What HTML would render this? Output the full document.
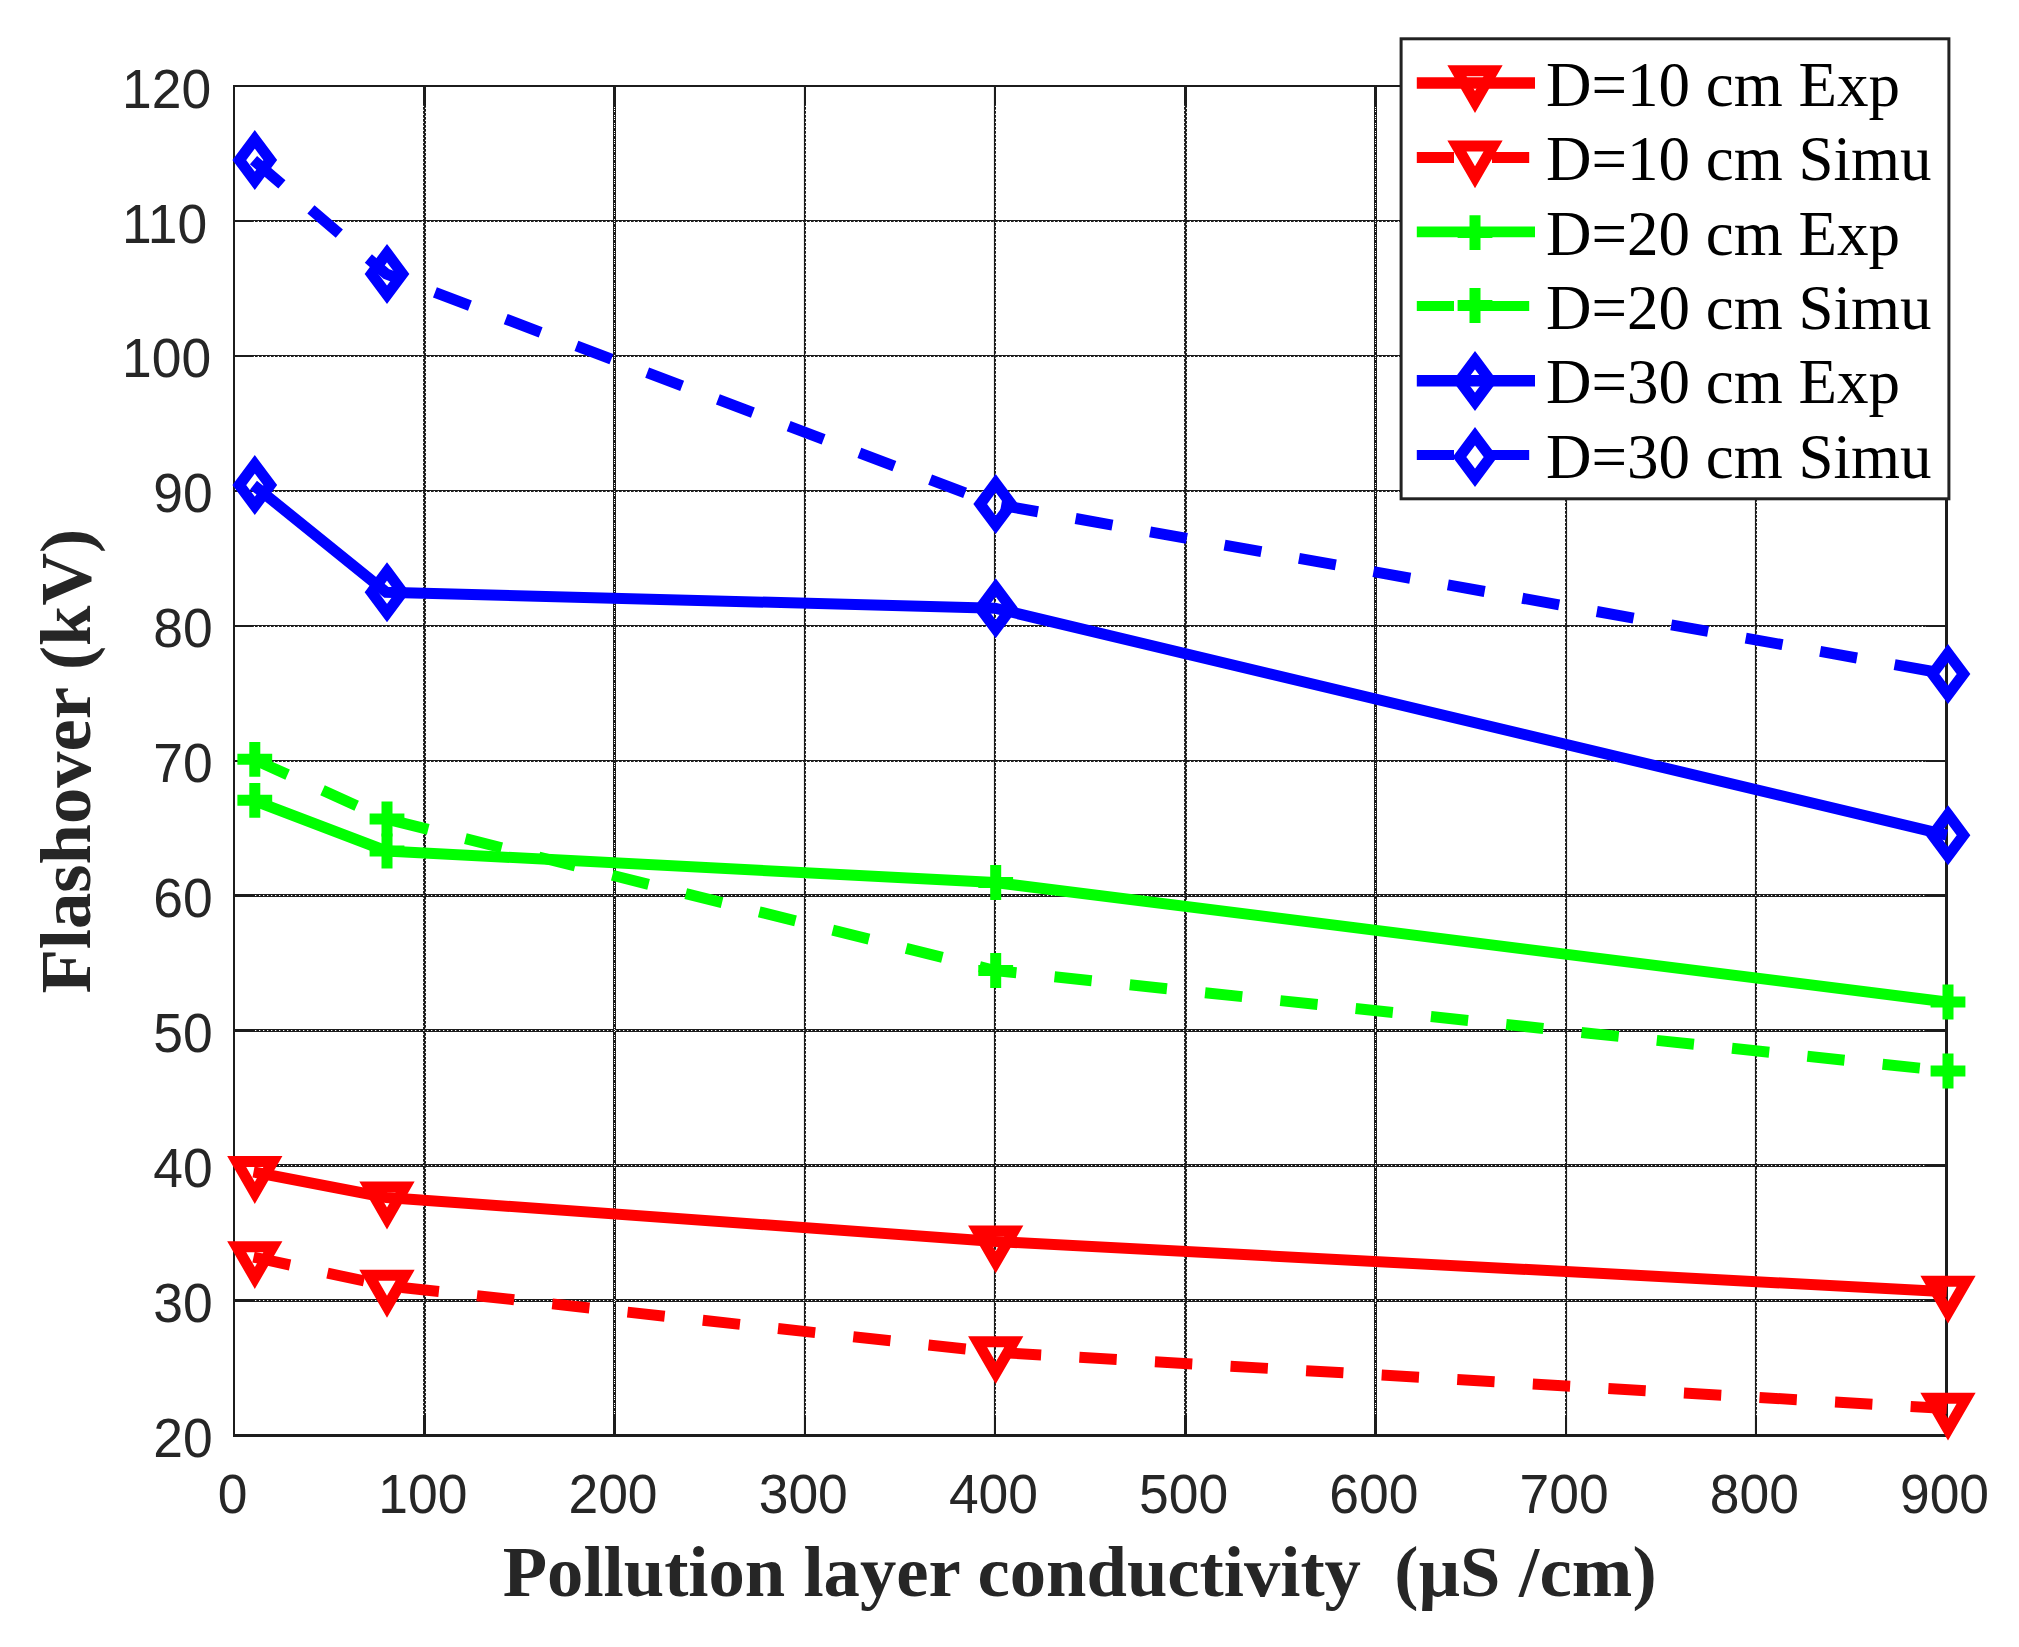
<!DOCTYPE html>
<html><head><meta charset="utf-8"><title>Flashover vs pollution layer conductivity</title>
<style>html,body{margin:0;padding:0;background:#fff;overflow:hidden}svg{display:block}.tk{font-family:"Liberation Sans",Arial,sans-serif;font-size:55px;fill:#262626}.lb{font-family:"Liberation Serif","Times New Roman",serif;font-weight:bold;font-size:72.65px;fill:#262626}.lg{font-family:"Liberation Serif","Times New Roman",serif;font-size:63px;fill:#000}</style></head><body>
<svg width="2019" height="1647" viewBox="0 0 2019 1647">
<rect width="2019" height="1647" fill="#fff"/>
<path d="M424.5 86.0V1435.5M804.5 86.0V1435.5M994.5 86.0V1435.5M1185.5 86.0V1435.5M1566.5 86.0V1435.5M1755.5 86.0V1435.5M234.0 760.5H1946.5M234.0 625.5H1946.5M234.0 490.5H1946.5M234.0 355.5H1946.5M234.0 220.5H1946.5" fill="none" stroke="#1c1c1c" stroke-width="1.15"/>
<path d="M423.5 87.0V1435.5M425.5 89.0V1435.5M805.5 87.0V1435.5M995.5 87.0V1435.5M1184.5 87.0V1435.5M1186.5 89.0V1435.5M1565.5 87.0V1435.5M1756.5 87.0V1435.5M235.0 761.5H1946.5M235.0 626.5H1946.5M235.0 491.5H1946.5M235.0 356.5H1946.5M235.0 221.5H1946.5" fill="none" stroke="#1c1c1c" stroke-width="1" stroke-dasharray="2.7 1.3"/>
<path d="M614.5 86.0V1435.5M1375.5 86.0V1435.5M234.0 1300.5H1946.5M234.0 1165.5H1946.5M234.0 1030.5H1946.5M234.0 895.5H1946.5" fill="none" stroke="#1c1c1c" stroke-width="3"/>
<path d="M614.5 107.0V1414.0M1375.5 107.0V1414.0" fill="none" stroke="#fff" stroke-width="1" stroke-dasharray="1 1 1 1 1 3"/>
<path d="M255.0 1300.5H1925.0M255.0 1165.5H1925.0M255.0 1030.5H1925.0M255.0 895.5H1925.0" fill="none" stroke="#fff" stroke-width="1" stroke-dasharray="1.3 2.7"/>
<path d="M424.5 86.0V105.5M424.5 1435.5V1415.0M614.5 86.0V105.5M614.5 1435.5V1415.0M1185.5 86.0V105.5M1185.5 1435.5V1415.0M1375.5 86.0V105.5M1375.5 1435.5V1415.0M234.0 1300.5H253.5M1946.5 1300.5H1926.0M234.0 1165.5H253.5M1946.5 1165.5H1926.0M234.0 1030.5H253.5M1946.5 1030.5H1926.0M234.0 895.5H253.5M1946.5 895.5H1926.0" fill="none" stroke="#1c1c1c" stroke-width="3"/>
<path d="M805.0 86.0V105.5M805.0 1435.5V1415.0M995.0 86.0V105.5M995.0 1435.5V1415.0M1566.0 86.0V105.5M1566.0 1435.5V1415.0M1756.0 86.0V105.5M1756.0 1435.5V1415.0M234.0 761.0H253.5M1946.5 761.0H1926.0M234.0 626.0H253.5M1946.5 626.0H1926.0M234.0 491.0H253.5M1946.5 491.0H1926.0M234.0 356.0H253.5M1946.5 356.0H1926.0M234.0 221.0H253.5M1946.5 221.0H1926.0" fill="none" stroke="#1c1c1c" stroke-width="2"/>
<path d="M234 85V1437M233 86H1948" fill="none" stroke="#1c1c1c" stroke-width="2"/>
<path d="M1946.5 85V1437M233 1435.5H1948" fill="none" stroke="#1c1c1c" stroke-width="3"/>
<text class="tk" transform="translate(232.60 1512.50) scale(0.971 1)" text-anchor="middle">0</text>
<text class="tk" transform="translate(422.81 1512.50) scale(0.971 1)" text-anchor="middle">100</text>
<text class="tk" transform="translate(613.02 1512.50) scale(0.971 1)" text-anchor="middle">200</text>
<text class="tk" transform="translate(803.23 1512.50) scale(0.971 1)" text-anchor="middle">300</text>
<text class="tk" transform="translate(993.44 1512.50) scale(0.971 1)" text-anchor="middle">400</text>
<text class="tk" transform="translate(1183.65 1512.50) scale(0.971 1)" text-anchor="middle">500</text>
<text class="tk" transform="translate(1373.86 1512.50) scale(0.971 1)" text-anchor="middle">600</text>
<text class="tk" transform="translate(1564.07 1512.50) scale(0.971 1)" text-anchor="middle">700</text>
<text class="tk" transform="translate(1754.28 1512.50) scale(0.971 1)" text-anchor="middle">800</text>
<text class="tk" transform="translate(1944.49 1512.50) scale(0.971 1)" text-anchor="middle">900</text>
<text class="tk" transform="translate(212.60 1457.05) scale(0.971 1)" text-anchor="end">20</text>
<text class="tk" transform="translate(212.60 1322.10) scale(0.971 1)" text-anchor="end">30</text>
<text class="tk" transform="translate(212.60 1187.15) scale(0.971 1)" text-anchor="end">40</text>
<text class="tk" transform="translate(212.60 1052.20) scale(0.971 1)" text-anchor="end">50</text>
<text class="tk" transform="translate(212.60 917.25) scale(0.971 1)" text-anchor="end">60</text>
<text class="tk" transform="translate(212.60 782.30) scale(0.971 1)" text-anchor="end">70</text>
<text class="tk" transform="translate(212.60 647.35) scale(0.971 1)" text-anchor="end">80</text>
<text class="tk" transform="translate(212.60 512.40) scale(0.971 1)" text-anchor="end">90</text>
<text class="tk" transform="translate(211.20 377.45) scale(0.971 1)" text-anchor="end">100</text>
<text class="tk" transform="translate(207.10 242.50) scale(0.971 1)" text-anchor="end">110</text>
<text class="tk" transform="translate(211.20 107.55) scale(0.971 1)" text-anchor="end">120</text>
<text class="lb" y="1596.3" xml:space="preserve"><tspan x="502.7">Pollution layer conductivity  </tspan><tspan x="1394.3" letter-spacing="0.2">(μS /cm)</tspan></text>
<text class="lb" transform="translate(90.1 993.6) rotate(-90)">Flashover (kV)</text>
<polyline points="253.50,1172.00 386.30,1197.50 994.90,1241.40 1946.80,1291.70" fill="none" stroke="#ff0000" stroke-width="11.00" stroke-linejoin="miter"/>
<polygon points="236.70,1161.55 272.90,1161.55 254.80,1192.90" fill="none" stroke="#ff0000" stroke-width="11.00" stroke-miterlimit="10"/>
<polygon points="368.90,1187.05 405.10,1187.05 387.00,1218.40" fill="none" stroke="#ff0000" stroke-width="11.00" stroke-miterlimit="10"/>
<polygon points="977.60,1230.95 1013.80,1230.95 995.70,1262.30" fill="none" stroke="#ff0000" stroke-width="11.00" stroke-miterlimit="10"/>
<polygon points="1929.90,1281.25 1966.10,1281.25 1948.00,1312.60" fill="none" stroke="#ff0000" stroke-width="11.00" stroke-miterlimit="10"/>
<polyline points="253.50,1257.10 386.30,1285.80 994.90,1352.20 1946.80,1408.60" fill="none" stroke="#ff0000" stroke-width="11.00" stroke-linejoin="miter" stroke-dasharray="37.4 38.3"/>
<polygon points="236.70,1246.65 272.90,1246.65 254.80,1278.00" fill="none" stroke="#ff0000" stroke-width="11.00" stroke-miterlimit="10"/>
<polygon points="368.90,1275.35 405.10,1275.35 387.00,1306.70" fill="none" stroke="#ff0000" stroke-width="11.00" stroke-miterlimit="10"/>
<polygon points="977.60,1341.75 1013.80,1341.75 995.70,1373.10" fill="none" stroke="#ff0000" stroke-width="11.00" stroke-miterlimit="10"/>
<polygon points="1929.90,1398.15 1966.10,1398.15 1948.00,1429.50" fill="none" stroke="#ff0000" stroke-width="11.00" stroke-miterlimit="10"/>
<polyline points="253.50,800.30 386.30,851.00 994.90,882.50 1946.80,1002.00" fill="none" stroke="#00ff00" stroke-width="11.00" stroke-linejoin="miter"/>
<path d="M237.40 800.30H272.20M254.80 782.90V817.70" fill="none" stroke="#00ff00" stroke-width="11.00"/>
<path d="M369.60 851.00H404.40M387.00 833.60V868.40" fill="none" stroke="#00ff00" stroke-width="11.00"/>
<path d="M978.30 882.50H1013.10M995.70 865.10V899.90" fill="none" stroke="#00ff00" stroke-width="11.00"/>
<path d="M1930.60 1002.00H1965.40M1948.00 984.60V1019.40" fill="none" stroke="#00ff00" stroke-width="11.00"/>
<polyline points="253.50,759.30 386.30,819.00 994.90,970.50 1946.80,1071.00" fill="none" stroke="#00ff00" stroke-width="11.00" stroke-linejoin="miter" stroke-dasharray="37.4 38.3"/>
<path d="M237.40 759.30H272.20M254.80 741.90V776.70" fill="none" stroke="#00ff00" stroke-width="11.00"/>
<path d="M369.60 819.00H404.40M387.00 801.60V836.40" fill="none" stroke="#00ff00" stroke-width="11.00"/>
<path d="M978.30 970.50H1013.10M995.70 953.10V987.90" fill="none" stroke="#00ff00" stroke-width="11.00"/>
<path d="M1930.60 1071.00H1965.40M1948.00 1053.60V1088.40" fill="none" stroke="#00ff00" stroke-width="11.00"/>
<polyline points="253.50,485.10 386.30,592.20 994.90,608.20 1946.80,835.20" fill="none" stroke="#0000ff" stroke-width="11.00" stroke-linejoin="miter"/>
<polygon points="254.80,464.30 270.30,485.10 254.80,505.90 239.30,485.10" fill="none" stroke="#0000ff" stroke-width="11.00" stroke-miterlimit="10"/>
<polygon points="387.00,571.40 402.50,592.20 387.00,613.00 371.50,592.20" fill="none" stroke="#0000ff" stroke-width="11.00" stroke-miterlimit="10"/>
<polygon points="995.70,587.40 1011.20,608.20 995.70,629.00 980.20,608.20" fill="none" stroke="#0000ff" stroke-width="11.00" stroke-miterlimit="10"/>
<polygon points="1948.00,814.40 1963.50,835.20 1948.00,856.00 1932.50,835.20" fill="none" stroke="#0000ff" stroke-width="11.00" stroke-miterlimit="10"/>
<polyline points="253.50,160.10 386.30,273.90 994.90,504.10 1946.80,674.00" fill="none" stroke="#0000ff" stroke-width="11.00" stroke-linejoin="miter" stroke-dasharray="37.4 38.23"/>
<polygon points="254.80,139.30 270.30,160.10 254.80,180.90 239.30,160.10" fill="none" stroke="#0000ff" stroke-width="11.00" stroke-miterlimit="10"/>
<polygon points="387.00,253.10 402.50,273.90 387.00,294.70 371.50,273.90" fill="none" stroke="#0000ff" stroke-width="11.00" stroke-miterlimit="10"/>
<polygon points="995.70,483.30 1011.20,504.10 995.70,524.90 980.20,504.10" fill="none" stroke="#0000ff" stroke-width="11.00" stroke-miterlimit="10"/>
<polygon points="1948.00,653.20 1963.50,674.00 1948.00,694.80 1932.50,674.00" fill="none" stroke="#0000ff" stroke-width="11.00" stroke-miterlimit="10"/>
<rect x="1401.10" y="38.80" width="547.80" height="460.00" fill="#fff" stroke="#222" stroke-width="3"/>
<line x1="1416.8" y1="82.90" x2="1535" y2="82.90" stroke="#ff0000" stroke-width="11.50"/>
<polygon points="1456.90,70.65 1493.10,70.65 1475.00,102.00" fill="none" stroke="#ff0000" stroke-width="11.00" stroke-miterlimit="10"/>
<text class="lg" x="1546" y="105.90">D=10 cm Exp</text>
<line x1="1416.8" y1="157.55" x2="1530" y2="157.55" stroke="#ff0000" stroke-width="11.10" stroke-dasharray="37.2 38"/>
<polygon points="1456.90,146.00 1493.10,146.00 1475.00,177.35" fill="none" stroke="#ff0000" stroke-width="11.00" stroke-miterlimit="10"/>
<text class="lg" x="1546" y="180.25">D=10 cm Simu</text>
<line x1="1416.8" y1="231.90" x2="1535" y2="231.90" stroke="#00ff00" stroke-width="10.90"/>
<path d="M1457.60 232.60H1492.40M1475.00 215.20V250.00" fill="none" stroke="#00ff00" stroke-width="11.00"/>
<text class="lg" x="1546" y="254.60">D=20 cm Exp</text>
<line x1="1416.8" y1="305.90" x2="1530" y2="305.90" stroke="#00ff00" stroke-width="10.00" stroke-dasharray="37.2 38"/>
<path d="M1457.60 305.50H1492.40M1475.00 288.10V322.90" fill="none" stroke="#00ff00" stroke-width="11.00"/>
<text class="lg" x="1546" y="328.95">D=20 cm Simu</text>
<line x1="1416.8" y1="380.85" x2="1535" y2="380.85" stroke="#0000ff" stroke-width="11.50"/>
<polygon points="1475.00,360.15 1490.50,380.95 1475.00,401.75 1459.50,380.95" fill="none" stroke="#0000ff" stroke-width="11.00" stroke-miterlimit="10"/>
<text class="lg" x="1546" y="403.30">D=30 cm Exp</text>
<line x1="1416.8" y1="455.00" x2="1530" y2="455.00" stroke="#0000ff" stroke-width="10.00" stroke-dasharray="37.2 38"/>
<polygon points="1475.00,436.20 1490.50,457.00 1475.00,477.80 1459.50,457.00" fill="none" stroke="#0000ff" stroke-width="11.00" stroke-miterlimit="10"/>
<text class="lg" x="1546" y="477.65">D=30 cm Simu</text>
</svg></body></html>
